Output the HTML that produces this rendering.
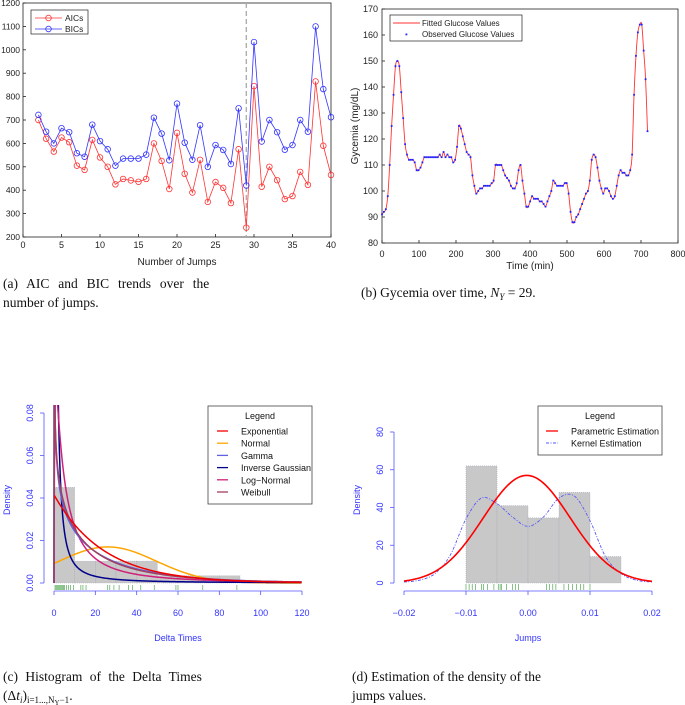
<!DOCTYPE html>
<html><head><meta charset="utf-8"><style>
html,body{margin:0;padding:0;background:#fff}
svg{display:block}
.t{font-family:"Liberation Sans",sans-serif}
.cap{font-family:"Liberation Serif",serif;font-size:13.5px;fill:#111}
</style></head><body>
<svg id="fig" width="685" height="705" viewBox="0 0 685 705" xmlns="http://www.w3.org/2000/svg">
<g id="pa"></g>
<g id="pb"></g>
<g id="pc"></g>
<g id="pd"></g>
<text class="cap" x="3" y="288" word-spacing="5.5">(a) AIC and BIC trends over the</text>
<text class="cap" x="3" y="307">number of jumps.</text>
<text class="cap" x="361" y="297">(b) Gycemia over time, <tspan font-style="italic">N</tspan><tspan font-size="9" dy="3" font-style="italic">Y</tspan><tspan dy="-3"> = 29.</tspan></text>
<text class="cap" x="3" y="681" word-spacing="4">(c) Histogram of the Delta Times</text>
<text class="cap" x="3" y="700">(Δ<tspan font-style="italic">t</tspan><tspan font-size="9" dy="3" font-style="italic">i</tspan><tspan dy="-3">)</tspan><tspan font-size="9" dy="3">i=1...,N</tspan><tspan font-size="7" dy="2">Y</tspan><tspan font-size="9" dy="-2">−1</tspan><tspan dy="-3">.</tspan></text>
<text class="cap" x="352" y="681">(d) Estimation of the density of the</text>
<text class="cap" x="352" y="700">jumps values.</text>
</svg>
<script>
// ---- Panel A data ----
const jumps = [2,3,4,5,6,7,8,9,10,11,12,13,14,15,16,17,18,19,20,21,22,23,24,25,26,27,28,29,30,31,32,33,34,35,36,37,38,39,40];
const aicValues = [700,620,565,625,605,505,487,615,540,500,425,448,442,436,448,600,525,405,645,470,390,530,350,435,410,345,575,240,845,415,500,443,362,375,478,423,865,590,465];
const bicValues = [722,650,600,665,648,558,543,680,610,575,505,535,535,535,552,710,642,528,770,603,530,678,500,593,572,512,750,420,1033,608,700,648,573,593,700,650,1100,832,712];
const aTicksX = [0,5,10,15,20,25,30,35,40];
const aTicksY = [200,300,400,500,600,700,800,900,1000,1100,1200];
const selectedJumps = 29;
// ---- Panel B data ----
const obsStep = 5.2;
const glucoseObs = [91,92,93,98,110,125,137,148,150,148,138,128,118,114,112,112,112,111,108,108,109,111,113,113,113,113,113,113,113,113,114,113,115,113,114,113,113,111,112,117,125,124,121,118,115,114,113,106,102,99,100,101,101,102,102,102,102,103,104,110,110,110,110,108,106,105,104,102,101,101,103,108,110,104,99,94,94,96,98,97,97,97,96,96,95,94,96,98,100,104,103,102,102,102,102,103,103,99,92,88,88,90,91,93,95,97,99,100,104,112,114,113,109,104,101,99,101,101,100,98,97,98,102,106,108,107,107,106,106,108,114,137,152,161,164,164,154,143,123];
const bTicksX = [0,100,200,300,400,500,600,700,800];
const bTicksY = [80,90,100,110,120,130,140,150,160,170];
// ---- Panel C data ----
const deltaBinEdges = [0,10,20,30,40,50,60,70,80,90];
const deltaBinDensity = [0.045,0.0103,0.0103,0.0103,0.0103,0.0034,0.0034,0.0034,0.0034];
const deltaRug = [0.5,1,1.5,2,2.5,3,3.5,4,4.5,5,6,7,8,9.5,13,14,15.5,26,27,29,31.5,36,38,42,48.5,59,60,72,88.5];
const cTicksX = [0,20,40,60,80,100,120];
const cTicksY = [0,0.02,0.04,0.06,0.08];
const expRate = 0.0415;
const normMean = 26, normSd = 23.5;
const gammaShape = 0.7, gammaScale = 34;
const igMean = 24, igLambda = 0.5;
const lnMu = 2.2, lnSigma = 1.5;
const wbShape = 0.8, wbScale = 21;
// ---- Panel D data ----
const jumpBinEdges = [-0.01,-0.005,0,0.005,0.01,0.015];
const jumpBinDensity = [62,41,34.5,48,14];
const jumpRug = [-0.01,-0.0095,-0.009,-0.0085,-0.0075,-0.0072,-0.0065,-0.0055,-0.0048,-0.0045,-0.0043,-0.0035,-0.0025,-0.002,-0.0015,0.003,0.0035,0.004,0.0045,0.0058,0.0065,0.0072,0.0078,0.0085,0.009,0.01];
const kernelX = [-0.02,-0.0175,-0.015,-0.0125,-0.01,-0.0075,-0.005,-0.0025,0,0.0025,0.005,0.0075,0.01,0.0125,0.015,0.0175,0.02];
const kernelY = [0.5,1.5,5,15,34,45,42,35,30,35,45,46,33,14,5,1.5,0.5];
const paramMean = -0.0002, paramSd = 0.007;
const dTicksX = [-0.02,-0.01,0,0.01,0.02];
const dTicksY = [0,20,40,60,80];

const NS='http://www.w3.org/2000/svg';
function mk(parent,tag,attrs,text){const e=document.createElementNS(NS,tag);for(const k in attrs)e.setAttribute(k,attrs[k]);if(text!==undefined)e.textContent=text;parent.appendChild(e);return e;}
function lin(d0,d1,r0,r1){return v=>r0+(v-d0)*(r1-r0)/(d1-d0);}
function smoothPath(pts){let d='M'+pts[0][0].toFixed(2)+','+pts[0][1].toFixed(2);for(let i=0;i<pts.length-1;i++){const p0=pts[Math.max(0,i-1)],p1=pts[i],p2=pts[i+1],p3=pts[Math.min(pts.length-1,i+2)];const c1=[p1[0]+(p2[0]-p0[0])/6,p1[1]+(p2[1]-p0[1])/6],c2=[p2[0]-(p3[0]-p1[0])/6,p2[1]-(p3[1]-p1[1])/6];d+='C'+c1[0].toFixed(2)+','+c1[1].toFixed(2)+' '+c2[0].toFixed(2)+','+c2[1].toFixed(2)+' '+p2[0].toFixed(2)+','+p2[1].toFixed(2);}return d;}

// ===== Panel A =====
(function(){
const g=document.getElementById('pa');
const L=23,R=331,T=3,B=237;
const x=lin(0,40,L,R),y=lin(200,1200,B,T);
mk(g,'rect',{x:L,y:T,width:R-L,height:B-T,fill:'#fff',stroke:'#222','stroke-width':0.8});
aTicksX.forEach(v=>{mk(g,'line',{x1:x(v),x2:x(v),y1:B,y2:B-3,stroke:'#222','stroke-width':0.8});
 const t=mk(g,'text',{x:x(v),y:B+11,'font-size':9,'text-anchor':'middle',class:'t',fill:'#222'},v);
 });
aTicksY.forEach(v=>{mk(g,'line',{x1:L,x2:L+3,y1:y(v),y2:y(v),stroke:'#222','stroke-width':0.8});
 const t=mk(g,'text',{x:L-3,y:y(v)+3,'font-size':8.5,'text-anchor':'end',class:'t',fill:'#222'},v);
 });
const xl=mk(g,'text',{x:177,y:265,'font-size':10,'text-anchor':'middle',class:'t',fill:'#222'},'Number of Jumps');

const vl=mk(g,'line',{x1:x(selectedJumps),x2:x(selectedJumps),y1:T,y2:B,stroke:'#aaa','stroke-width':1.3,'stroke-dasharray':'5,3'});

[[aicValues,'#f33','aic'],[bicValues,'#33f','bic']].forEach(([vals,c,n])=>{
 const pl=mk(g,'polyline',{points:jumps.map((j,i)=>x(j)+','+y(vals[i])).join(' '),fill:'none',stroke:c,'stroke-width':0.8});
 
 jumps.forEach((j,i)=>{const ci=mk(g,'circle',{cx:x(j),cy:y(vals[i]),r:2.8,fill:'none',stroke:c,'stroke-width':0.8});
  });
});
const lg=mk(g,'g',{});
mk(lg,'rect',{x:31,y:10,width:57,height:24,fill:'#fff',stroke:'#222','stroke-width':0.7});
[['AICs','#f33',18],['BICs','#33f',29]].forEach(([s,c,yy])=>{mk(lg,'line',{x1:35,x2:62,y1:yy,y2:yy,stroke:c,'stroke-width':0.8});mk(lg,'circle',{cx:48.5,cy:yy,r:2.8,fill:'none',stroke:c,'stroke-width':0.8});mk(lg,'text',{x:65,y:yy+3,'font-size':8.5,class:'t',fill:'#222'},s);});
})();

// ===== Panel B =====
(function(){
const g=document.getElementById('pb');
const L=382,R=678,T=9,B=243;
const x=lin(0,800,L,R),y=lin(80,170,B,T);
mk(g,'rect',{x:L,y:T,width:R-L,height:B-T,fill:'#fff',stroke:'#222','stroke-width':0.8});
bTicksX.forEach(v=>{mk(g,'line',{x1:x(v),x2:x(v),y1:B,y2:B-3,stroke:'#222','stroke-width':0.8});
 const t=mk(g,'text',{x:x(v),y:B+14,'font-size':9,'text-anchor':'middle',class:'t',fill:'#222'},v);
 });
bTicksY.forEach(v=>{mk(g,'line',{x1:L,x2:L+3,y1:y(v),y2:y(v),stroke:'#222','stroke-width':0.8});
 const t=mk(g,'text',{x:L-4,y:y(v)+3,'font-size':9,'text-anchor':'end',class:'t',fill:'#222'},v);
 });
const xl=mk(g,'text',{x:530,y:269,'font-size':10,'text-anchor':'middle',class:'t',fill:'#222'},'Time (min)');

const yl=mk(g,'text',{x:0,y:0,'font-size':10,'text-anchor':'middle',class:'t',fill:'#222',transform:'translate(358,126) rotate(-90)'},'Gycemia (mg/dL)');

const pts=glucoseObs.map((v,i)=>[x(i*obsStep),y(v)]);
const fl=mk(g,'path',{d:smoothPath(pts),fill:'none',stroke:'#f33','stroke-width':0.9});

glucoseObs.forEach((v,i)=>{const r=mk(g,'rect',{x:x(i*obsStep)-0.9,y:y(v)-0.9,width:1.8,height:1.8,fill:'#22f'});
 });
const lg=mk(g,'g',{});
mk(lg,'rect',{x:390,y:15,width:132,height:26,fill:'#fff',stroke:'#222','stroke-width':0.7});
mk(lg,'line',{x1:393,x2:420,y1:23,y2:23,stroke:'#f33','stroke-width':0.9});
mk(lg,'text',{x:422,y:26,'font-size':8,class:'t',fill:'#222'},'Fitted Glucose Values');
mk(lg,'rect',{x:405.5,y:33.5,width:1.8,height:1.8,fill:'#22f'});
mk(lg,'text',{x:422,y:37,'font-size':8,class:'t',fill:'#222'},'Observed Glucose Values');
})();

// ===== Panel C =====
(function(){
const g=document.getElementById('pc');
const L=54,R=302,B=583,T=413;
const x=lin(0,120,L,R),y=lin(0,0.08,B,T);
deltaBinDensity.forEach((d,i)=>{const r=mk(g,'rect',{x:x(deltaBinEdges[i]),y:y(d),width:x(deltaBinEdges[i+1])-x(deltaBinEdges[i]),height:B-y(d),fill:'#c8c8c8',stroke:'#aab','stroke-width':0.6,'stroke-dasharray':'1,1'});
 });
const lf=(v)=>{const c=[76.18009172947146,-86.50532032941677,24.01409824083091,-1.231739572450155,0.1208650973866179e-2,-0.5395239384953e-5];let yy=v,tmp=v+5.5;tmp-=(v+0.5)*Math.log(tmp);let ser=1.000000000190015;for(let j=0;j<6;j++)ser+=c[j]/++yy;return -tmp+Math.log(2.5066282746310005*ser/v);};
const dens={
 exp:t=>expRate*Math.exp(-expRate*t),
 norm:t=>Math.exp(-((t-normMean)**2)/(2*normSd*normSd))/(normSd*Math.sqrt(2*Math.PI)),
 gamma:t=>Math.exp((gammaShape-1)*Math.log(t)-t/gammaScale-lf(gammaShape)-gammaShape*Math.log(gammaScale)),
 ig:t=>Math.sqrt(igLambda/(2*Math.PI*t*t*t))*Math.exp(-igLambda*(t-igMean)**2/(2*igMean*igMean*t)),
 ln:t=>Math.exp(-((Math.log(t)-lnMu)**2)/(2*lnSigma*lnSigma))/(t*lnSigma*Math.sqrt(2*Math.PI)),
 wb:t=>(wbShape/wbScale)*Math.pow(t/wbScale,wbShape-1)*Math.exp(-Math.pow(t/wbScale,wbShape))
};
mk(g,'clipPath',{id:'clipc'}).appendChild(document.createElementNS(NS,'rect'));
const cr=g.querySelector('#clipc rect');cr.setAttribute('x',L-2);cr.setAttribute('y',405);cr.setAttribute('width',R-L+4);cr.setAttribute('height',B-403);
const curves=[['norm','#ffa500','normal-curve'],['ig','#00008b','inverse-gaussian-curve'],['ln','#d0207a','log-normal-curve'],['gamma','#6060e0','gamma-curve'],['wb','#a04060','weibull-curve'],['exp','#f00000','exponential-curve']];
curves.forEach(([k,c,n])=>{const pts=[];for(let t=0.2;t<=120;t+=0.4){pts.push((x(t)).toFixed(2)+','+(y(dens[k](t))).toFixed(2));}
 if(k!=='norm'&&k!=='exp')pts.unshift(x(0)+','+B);
 const p=mk(g,'polyline',{points:pts.join(' '),fill:'none',stroke:c,'stroke-width':1.5,'clip-path':'url(#clipc)'});
 });
deltaRug.forEach(v=>{const r=mk(g,'line',{x1:x(v),x2:x(v),y1:B+2,y2:B+7,stroke:'#3a9a3a','stroke-width':0.6});
 });
mk(g,'line',{x1:x(0),x2:x(120),y1:591,y2:591,stroke:'#55f','stroke-width':0.8});
mk(g,'line',{x1:44,x2:44,y1:y(0),y2:y(0.08),stroke:'#55f','stroke-width':0.8});
cTicksX.forEach(v=>{mk(g,'line',{x1:x(v),x2:x(v),y1:591,y2:595,stroke:'#55f','stroke-width':0.8});
 const t=mk(g,'text',{x:x(v),y:616,'font-size':9,'text-anchor':'middle',class:'t',fill:'#33f'},v);
 });
cTicksY.forEach(v=>{mk(g,'line',{x1:40,x2:44,y1:y(v),y2:y(v),stroke:'#55f','stroke-width':0.8});
 const t=mk(g,'text',{x:0,y:0,'font-size':9,'text-anchor':'middle',class:'t',fill:'#33f',transform:'translate(33,'+y(v)+') rotate(-90)'},v.toFixed(2));
 });
const xl=mk(g,'text',{x:178,y:641,'font-size':9,'text-anchor':'middle',class:'t',fill:'#33f'},'Delta Times');

const yl=mk(g,'text',{x:0,y:0,'font-size':9,'text-anchor':'middle',class:'t',fill:'#33f',transform:'translate(10,500) rotate(-90)'},'Density');

const lg=mk(g,'g',{});
mk(lg,'rect',{x:208,y:406,width:104,height:98,fill:'#fff',stroke:'#444','stroke-width':0.8});
mk(lg,'text',{x:260,y:419,'font-size':9,'text-anchor':'middle',class:'t',fill:'#111'},'Legend');
[['Exponential','#f00000'],['Normal','#ffa500'],['Gamma','#6060e0'],['Inverse Gaussian','#00008b'],['Log\u2212Normal','#d0207a'],['Weibull','#a04060']].forEach(([s,c],i)=>{const yy=431+i*12.2;mk(lg,'line',{x1:217,x2:228,y1:yy,y2:yy,stroke:c,'stroke-width':1.3});mk(lg,'text',{x:241,y:yy+3.5,'font-size':9,class:'t',fill:'#111'},s);});
})();

// ===== Panel D =====
(function(){
const g=document.getElementById('pd');
const L=404,R=652,B=583,T=432;
const x=lin(-0.02,0.02,L,R),y=lin(0,80,B,T);
jumpBinDensity.forEach((d,i)=>{const r=mk(g,'rect',{x:x(jumpBinEdges[i]),y:y(d),width:x(jumpBinEdges[i+1])-x(jumpBinEdges[i]),height:B-y(d),fill:'#c8c8c8',stroke:'#aab','stroke-width':0.6,'stroke-dasharray':'1,1'});
 });
const kp=mk(g,'path',{d:smoothPath(kernelX.map((v,i)=>[x(v),y(kernelY[i])])),fill:'none',stroke:'#55f','stroke-width':0.9,'stroke-dasharray':'3,1.5,1,1.5'});

const pp=[];for(let v=-0.02;v<=0.02001;v+=0.0004){pp.push(x(v).toFixed(2)+','+y(Math.exp(-((v-paramMean)**2)/(2*paramSd*paramSd))/(paramSd*Math.sqrt(2*Math.PI))).toFixed(2));}
const pl=mk(g,'polyline',{points:pp.join(' '),fill:'none',stroke:'#f00','stroke-width':1.6});

jumpRug.forEach(v=>{const r=mk(g,'line',{x1:x(v),x2:x(v),y1:B+1,y2:B+7,stroke:'#3a9a3a','stroke-width':0.6});
 });
mk(g,'line',{x1:L,x2:R,y1:591,y2:591,stroke:'#55f','stroke-width':0.8});
mk(g,'line',{x1:394,x2:394,y1:y(0),y2:y(80),stroke:'#55f','stroke-width':0.8});
dTicksX.forEach(v=>{mk(g,'line',{x1:x(v),x2:x(v),y1:591,y2:595,stroke:'#55f','stroke-width':0.8});
 const t=mk(g,'text',{x:x(v),y:616,'font-size':9,'text-anchor':'middle',class:'t',fill:'#33f'},v===0?'0.00':v.toFixed(2).replace('-','\u2212'));
 });
dTicksY.forEach(v=>{mk(g,'line',{x1:390,x2:394,y1:y(v),y2:y(v),stroke:'#55f','stroke-width':0.8});
 const t=mk(g,'text',{x:0,y:0,'font-size':9,'text-anchor':'middle',class:'t',fill:'#33f',transform:'translate(383,'+y(v)+') rotate(-90)'},v);
 });
const xl=mk(g,'text',{x:528,y:641,'font-size':9,'text-anchor':'middle',class:'t',fill:'#33f'},'Jumps');

const yl=mk(g,'text',{x:0,y:0,'font-size':9,'text-anchor':'middle',class:'t',fill:'#33f',transform:'translate(360,500) rotate(-90)'},'Density');

const lg=mk(g,'g',{});
mk(lg,'rect',{x:538,y:406,width:124,height:49,fill:'#fff',stroke:'#444','stroke-width':0.8});
mk(lg,'text',{x:600,y:419,'font-size':9,'text-anchor':'middle',class:'t',fill:'#111'},'Legend');
mk(lg,'line',{x1:546,x2:558,y1:431,y2:431,stroke:'#f00','stroke-width':1.3});
mk(lg,'text',{x:571,y:434.5,'font-size':9,class:'t',fill:'#111'},'Parametric Estimation');
mk(lg,'line',{x1:546,x2:558,y1:443,y2:443,stroke:'#55f','stroke-width':0.9,'stroke-dasharray':'3,1.5,1,1.5'});
mk(lg,'text',{x:571,y:446.5,'font-size':9,class:'t',fill:'#111'},'Kernel Estimation');
})();
</script>
</body></html>
